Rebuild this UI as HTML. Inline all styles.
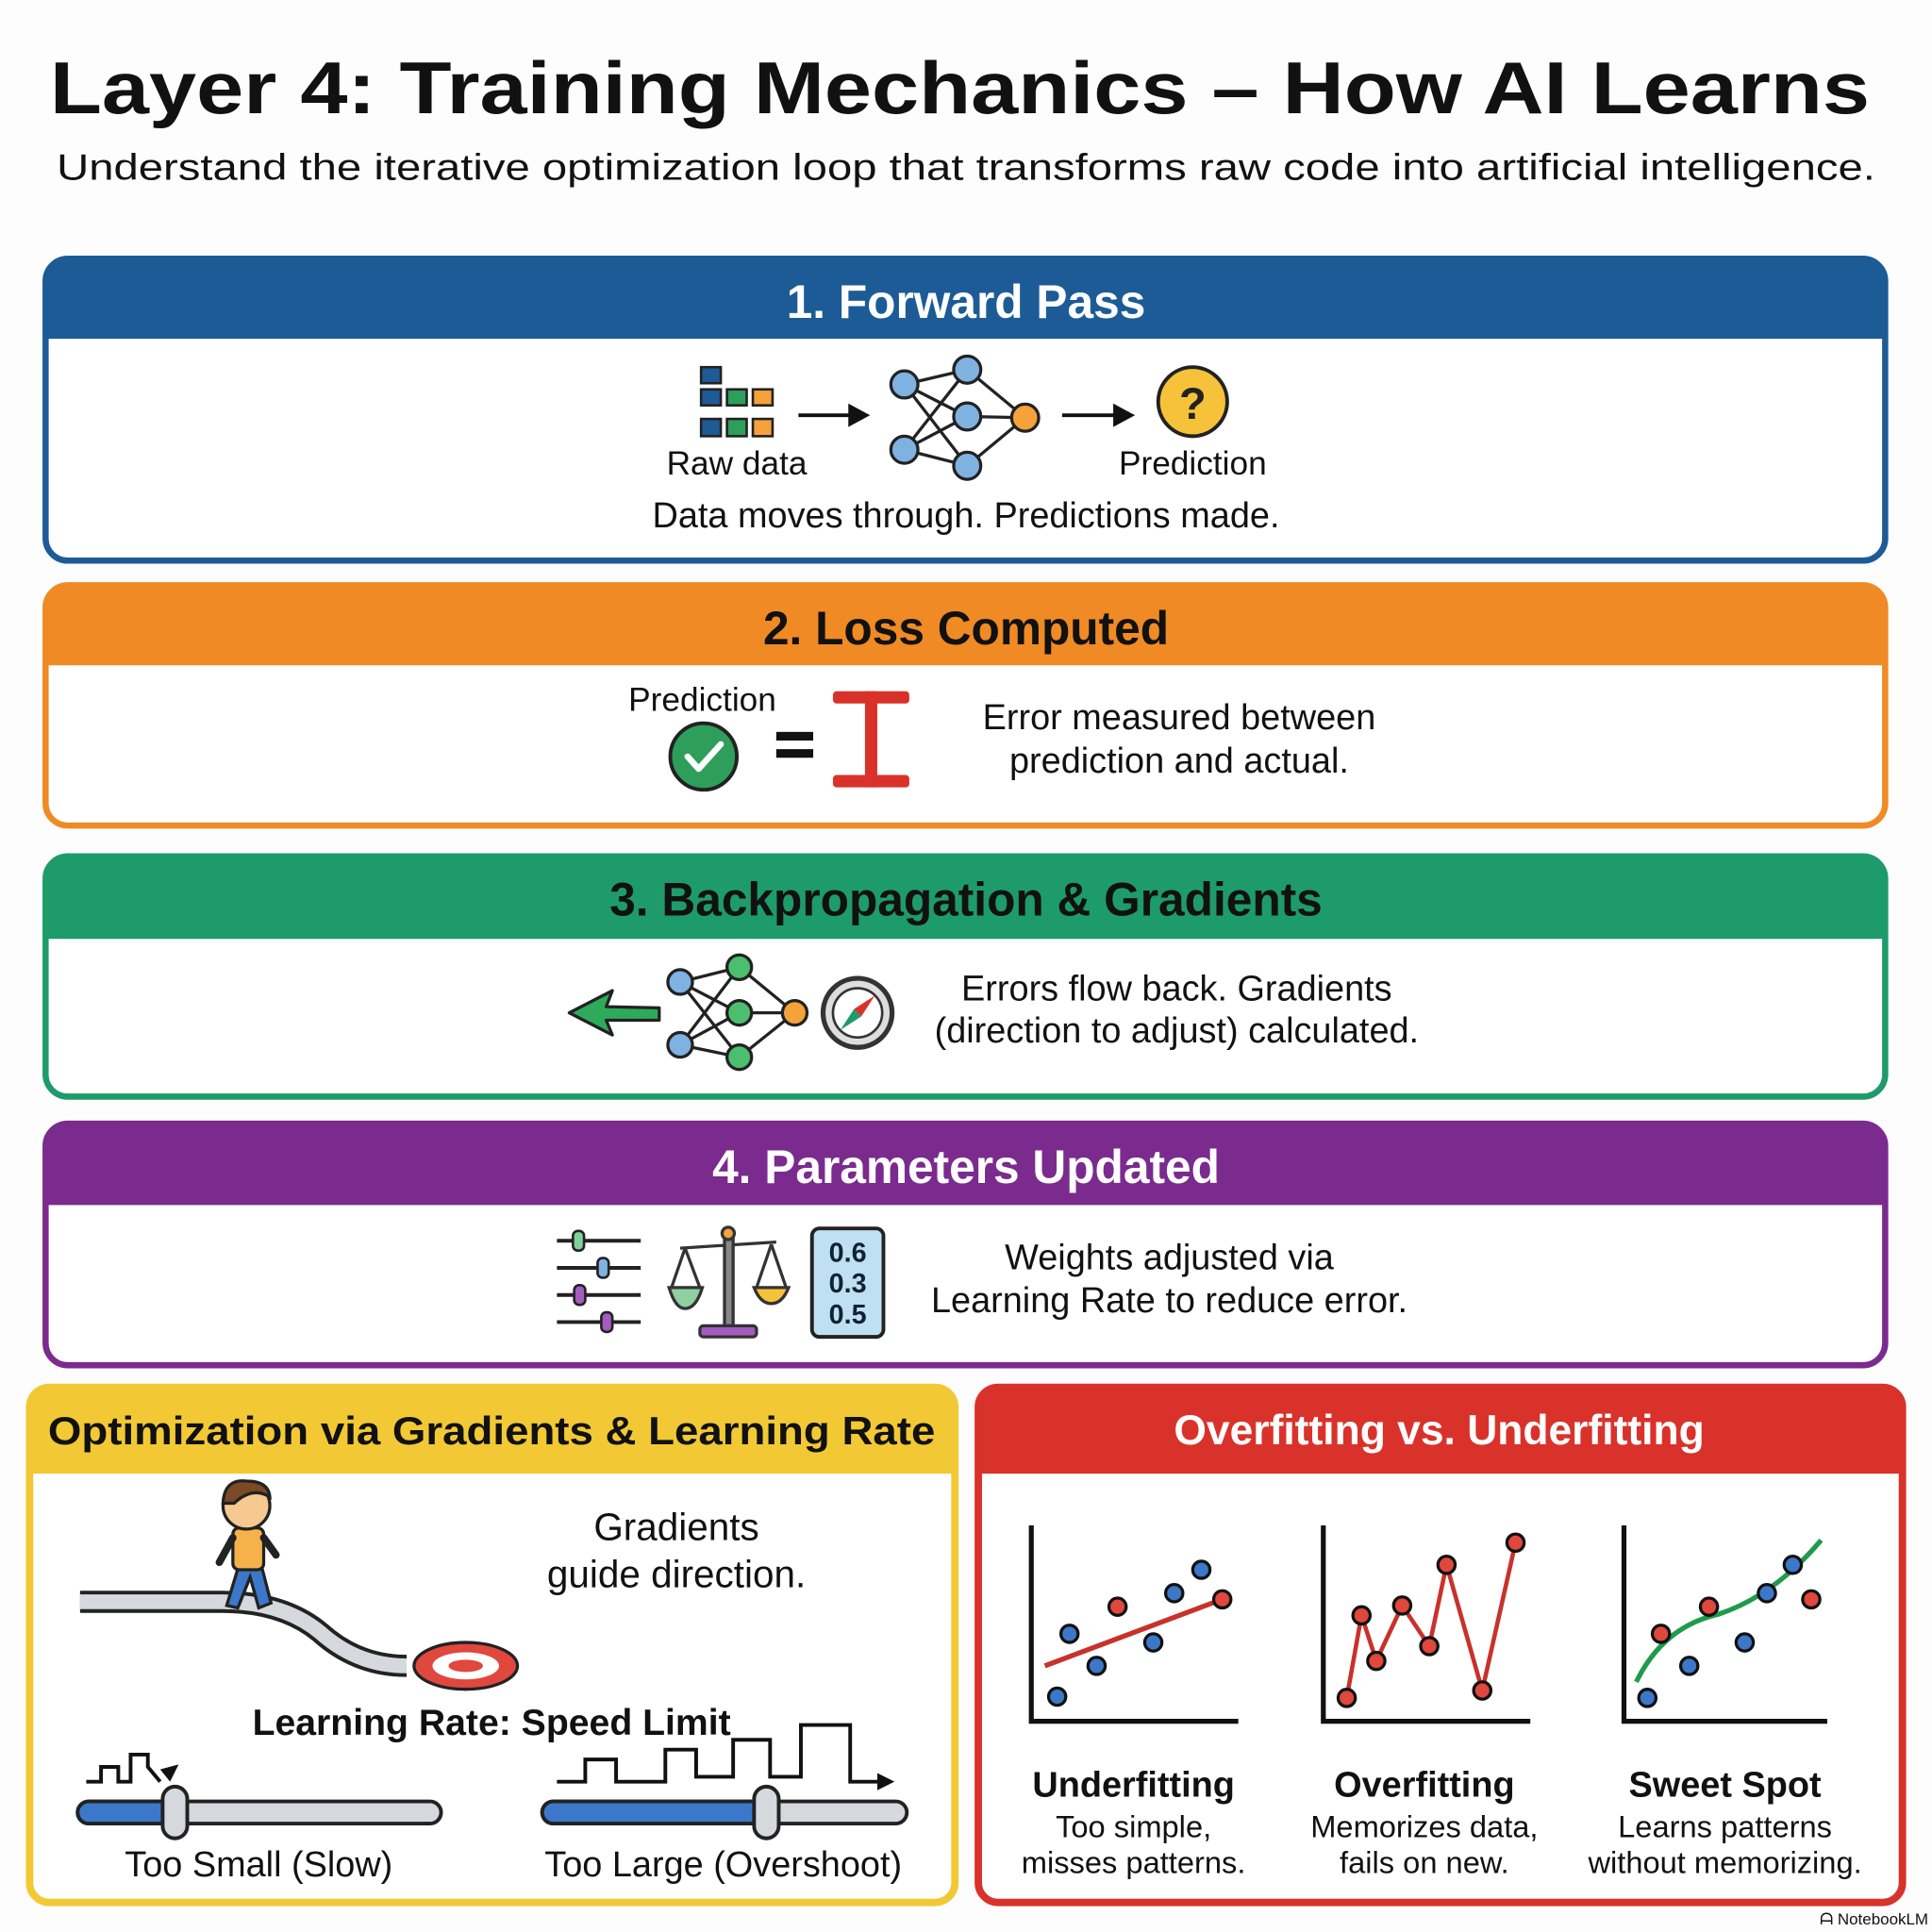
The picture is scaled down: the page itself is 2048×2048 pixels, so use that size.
<!DOCTYPE html>
<html><head><meta charset="utf-8"><style>
html,body{margin:0;padding:0;background:#fdfdfd;}
svg{display:block;}
text{font-family:"Liberation Sans",sans-serif;}
</style></head><body>
<svg width="2048" height="2048" viewBox="0 0 1568 1568" xmlns="http://www.w3.org/2000/svg">
<rect width="1568" height="1568" fill="#fdfdfd"/>
<text x="779" y="92" font-size="60" font-weight="bold" text-anchor="middle" textLength="1477" lengthAdjust="spacingAndGlyphs" fill="#111">Layer 4: Training Mechanics – How AI Learns</text>
<text x="784" y="146" font-size="30" text-anchor="middle" textLength="1476" lengthAdjust="spacingAndGlyphs" fill="#111">Understand the iterative optimization loop that transforms raw code into artificial intelligence.</text>

<!-- Box 1 -->
<rect x="37" y="210" width="1493" height="245" rx="18" fill="#fff" stroke="#1d5b97" stroke-width="5"/>
<path d="M37 275 V228 Q37 210 55 210 H1512 Q1530 210 1530 228 V275 Z" fill="#1d5b97"/>
<text x="784" y="258" font-size="38" font-weight="bold" text-anchor="middle" fill="#fff">1. Forward Pass</text>
<g stroke="#222" stroke-width="2">
<rect x="569" y="298" width="16" height="13" fill="#1d5b97"/>
<rect x="569" y="316" width="16" height="13" fill="#1d5b97"/><rect x="590" y="316" width="16" height="13" fill="#2e9e5b"/><rect x="611" y="316" width="16" height="13" fill="#f5a23a"/>
<rect x="569" y="340" width="16" height="14" fill="#1d5b97"/><rect x="590" y="340" width="16" height="14" fill="#2e9e5b"/><rect x="611" y="340" width="16" height="14" fill="#f5a23a"/>
</g>
<g stroke="#111" stroke-width="3" fill="#111">
<line x1="648" y1="337" x2="695" y2="337"/><path d="M703 337 L690 330 L690 344Z"/>
<line x1="862" y1="337" x2="910" y2="337"/><path d="M918 337 L905 330 L905 344Z"/>
</g>
<g stroke="#222" stroke-width="2.5">
<line x1="734" y1="312" x2="785" y2="300"/><line x1="734" y1="312" x2="785" y2="338"/><line x1="734" y1="312" x2="785" y2="378"/>
<line x1="734" y1="365" x2="785" y2="300"/><line x1="734" y1="365" x2="785" y2="338"/><line x1="734" y1="365" x2="785" y2="378"/>
<line x1="785" y1="300" x2="832" y2="339"/><line x1="785" y1="338" x2="832" y2="339"/><line x1="785" y1="378" x2="832" y2="339"/>
<circle cx="734" cy="312" r="11" fill="#7fb2e0"/><circle cx="734" cy="365" r="11" fill="#7fb2e0"/>
<circle cx="785" cy="300" r="11" fill="#7fb2e0"/><circle cx="785" cy="338" r="11" fill="#7fb2e0"/><circle cx="785" cy="378" r="11" fill="#7fb2e0"/>
<circle cx="832" cy="339" r="11" fill="#f5a23a"/>
</g>
<circle cx="968" cy="326" r="28" fill="#f5c23a" stroke="#222" stroke-width="3"/>
<text x="968" y="340" font-size="36" font-weight="bold" text-anchor="middle" fill="#222">?</text>
<text x="598" y="385" font-size="27" text-anchor="middle" fill="#111">Raw data</text>
<text x="968" y="385" font-size="27" text-anchor="middle" fill="#111">Prediction</text>
<text x="784" y="428" font-size="29" text-anchor="middle" fill="#111">Data moves through. Predictions made.</text>

<!-- Box 2 -->
<rect x="37" y="475" width="1493" height="195" rx="18" fill="#fff" stroke="#f08a24" stroke-width="5"/>
<path d="M37 540 V493 Q37 475 55 475 H1512 Q1530 475 1530 493 V540 Z" fill="#f08a24"/>
<text x="784" y="523" font-size="38" font-weight="bold" text-anchor="middle" fill="#111">2. Loss Computed</text>
<text x="570" y="577" font-size="27" text-anchor="middle" fill="#111">Prediction</text>
<circle cx="571" cy="614" r="27" fill="#2e9e5b" stroke="#222" stroke-width="3"/>
<path d="M558 614 L567 624 L585 604" fill="none" stroke="#fff" stroke-width="5" stroke-linecap="round" stroke-linejoin="round"/>
<rect x="630" y="594" width="30" height="7" fill="#111"/><rect x="630" y="608" width="30" height="7" fill="#111"/>
<g fill="#d9322b"><rect x="676" y="561" width="62" height="10" rx="3"/><rect x="702" y="561" width="10" height="78"/><rect x="676" y="629" width="62" height="10" rx="3"/></g>
<text x="957" y="592" font-size="29" text-anchor="middle" fill="#111">Error measured between</text>
<text x="957" y="627" font-size="29" text-anchor="middle" fill="#111">prediction and actual.</text>

<!-- Box 3 -->
<rect x="37" y="695" width="1493" height="195" rx="18" fill="#fff" stroke="#1e9b6b" stroke-width="5"/>
<path d="M37 762 V713 Q37 695 55 695 H1512 Q1530 695 1530 713 V762 Z" fill="#1e9b6b"/>
<text x="784" y="743" font-size="38" font-weight="bold" text-anchor="middle" fill="#111">3. Backpropagation &amp; Gradients</text>
<path d="M462 822 L497 804 L492 817 L535 818 L535 828 L492 828 L497 840 Z" fill="#2eab5a" stroke="#222" stroke-width="2.5" stroke-linejoin="round"/>
<g stroke="#222" stroke-width="2.5">
<line x1="552" y1="797" x2="600" y2="785"/><line x1="552" y1="797" x2="600" y2="822"/><line x1="552" y1="797" x2="600" y2="858"/>
<line x1="552" y1="848" x2="600" y2="785"/><line x1="552" y1="848" x2="600" y2="822"/><line x1="552" y1="848" x2="600" y2="858"/>
<line x1="600" y1="785" x2="645" y2="822"/><line x1="600" y1="822" x2="645" y2="822"/><line x1="600" y1="858" x2="645" y2="822"/>
<circle cx="552" cy="797" r="10" fill="#7fb2e0"/><circle cx="552" cy="848" r="10" fill="#7fb2e0"/>
<circle cx="600" cy="785" r="10" fill="#4cbf6e"/><circle cx="600" cy="822" r="10" fill="#4cbf6e"/><circle cx="600" cy="858" r="10" fill="#4cbf6e"/>
<circle cx="645" cy="822" r="10" fill="#f5a23a"/>
</g>
<circle cx="696" cy="822" r="28" fill="#ddd" stroke="#333" stroke-width="4"/>
<circle cx="696" cy="822" r="20" fill="#fff" stroke="#333" stroke-width="2"/>
<path d="M710 808 L699 825 L693 819 Z" fill="#d9322b"/><path d="M682 836 L693 819 L699 825 Z" fill="#1e9b6b"/>
<text x="955" y="812" font-size="29" text-anchor="middle" fill="#111">Errors flow back. Gradients</text>
<text x="955" y="846" font-size="29" text-anchor="middle" fill="#111">(direction to adjust) calculated.</text>

<!-- Box 4 -->
<rect x="37" y="912" width="1493" height="196" rx="18" fill="#fff" stroke="#7b2a8e" stroke-width="5"/>
<path d="M37 978 V930 Q37 912 55 912 H1512 Q1530 912 1530 930 V978 Z" fill="#7b2a8e"/>
<text x="784" y="960" font-size="38" font-weight="bold" text-anchor="middle" fill="#fff">4. Parameters Updated</text>
<g stroke="#222" stroke-width="3">
<line x1="452" y1="1007" x2="520" y2="1007"/><line x1="452" y1="1029" x2="520" y2="1029"/><line x1="452" y1="1051" x2="520" y2="1051"/><line x1="452" y1="1073" x2="520" y2="1073"/>
<rect x="465" y="999" width="9" height="16" rx="4" fill="#7fd09a" stroke-width="2"/>
<rect x="485" y="1021" width="9" height="16" rx="4" fill="#7fb2e0" stroke-width="2"/>
<rect x="466" y="1043" width="9" height="16" rx="4" fill="#a45cc0" stroke-width="2"/>
<rect x="488" y="1065" width="9" height="16" rx="4" fill="#a45cc0" stroke-width="2"/>
</g>
<g stroke="#333" stroke-width="2.5">
<line x1="552" y1="1013" x2="630" y2="1008"/>
<rect x="588" y="1003" width="7" height="73" fill="#888"/>
<circle cx="591" cy="1001" r="5" fill="#f5a23a"/>
<line x1="556" y1="1013" x2="545" y2="1045"/><line x1="556" y1="1013" x2="568" y2="1045"/>
<line x1="626" y1="1010" x2="614" y2="1045"/><line x1="626" y1="1010" x2="638" y2="1045"/>
<path d="M543 1045 H570 Q565 1062 556 1062 Q548 1062 543 1045Z" fill="#8fd0a0"/>
<path d="M612 1045 H640 Q635 1058 626 1058 Q617 1058 612 1045Z" fill="#f5c23a"/>
<rect x="568" y="1076" width="46" height="9" rx="3" fill="#a45cc0"/>
</g>
<rect x="659" y="997" width="58" height="88" rx="6" fill="#bfe0f2" stroke="#222" stroke-width="3"/>
<text x="688" y="1024" font-size="22" font-weight="bold" text-anchor="middle" fill="#123">0.6</text>
<text x="688" y="1049" font-size="22" font-weight="bold" text-anchor="middle" fill="#123">0.3</text>
<text x="688" y="1074" font-size="22" font-weight="bold" text-anchor="middle" fill="#123">0.5</text>
<text x="949" y="1030" font-size="29" text-anchor="middle" fill="#111">Weights adjusted via</text>
<text x="949" y="1065" font-size="29" text-anchor="middle" fill="#111">Learning Rate to reduce error.</text>

<!-- Bottom left -->
<rect x="24" y="1126" width="751" height="418" rx="16" fill="#fff" stroke="#f2c935" stroke-width="6"/>
<path d="M24 1196 V1142 Q24 1126 40 1126 H759 Q775 1126 775 1142 V1196 Z" fill="#f2c935"/>
<text x="399" y="1172" font-size="32" font-weight="bold" text-anchor="middle" textLength="720" lengthAdjust="spacingAndGlyphs" fill="#111">Optimization via Gradients &amp; Learning Rate</text>
<path d="M65 1300 H180 Q230 1300 260 1325 Q290 1352 330 1352" fill="none" stroke="#222" stroke-width="18" stroke-linecap="butt"/>
<path d="M65 1300 H180 Q230 1300 260 1325 Q290 1352 330 1352" fill="none" stroke="#d5d8dc" stroke-width="12"/>
<ellipse cx="378" cy="1352" rx="42" ry="19" fill="#e0473d" stroke="#222" stroke-width="2.5"/>
<ellipse cx="378" cy="1352" rx="27" ry="11" fill="#fff"/>
<ellipse cx="378" cy="1352" rx="14" ry="5" fill="#e0473d"/>
<!-- person -->
<g stroke="#222" stroke-width="2.5">
<path d="M194 1270 L184 1303 L193 1305 L203 1280 L210 1305 L220 1301 L212 1270Z" fill="#3b78c9"/>
<rect x="189" y="1240" width="25" height="34" rx="5" fill="#f5b24a"/>
<path d="M189 1248 L178 1268" stroke-width="6" stroke-linecap="round"/>
<path d="M214 1248 L224 1262" stroke-width="6" stroke-linecap="round"/>
<circle cx="200" cy="1222" r="19" fill="#f5c98f"/>
<path d="M181 1220 Q182 1200 200 1202 Q218 1202 219 1215 Q205 1206 190 1220Z" fill="#7a4a26"/>
</g>
<text x="549" y="1250" font-size="31" text-anchor="middle" fill="#111">Gradients</text>
<text x="549" y="1288" font-size="31" text-anchor="middle" fill="#111">guide direction.</text>
<text x="399" y="1408" font-size="30" font-weight="bold" text-anchor="middle" fill="#111">Learning Rate: Speed Limit</text>
<path d="M70 1446 H82 V1434 H96 V1446 H106 V1424 H120 V1434 L130 1446" fill="none" stroke="#111" stroke-width="3"/>
<path d="M130 1436 L145 1432 L138 1446Z" fill="#111"/>
<path d="M452 1446 H475 V1428 H500 V1446 H540 V1420 H565 V1442 H595 V1412 H625 V1442 H650 V1400 H690 V1446 H715" fill="none" stroke="#111" stroke-width="3"/>
<path d="M726 1446 L712 1439 L712 1453Z" fill="#111"/>
<rect x="63" y="1462" width="295" height="18" rx="9" fill="#d5d8dc" stroke="#222" stroke-width="3"/>
<rect x="63" y="1462" width="80" height="18" rx="9" fill="#3b78c9" stroke="#222" stroke-width="3"/>
<rect x="132" y="1450" width="20" height="42" rx="10" fill="#d5d8dc" stroke="#222" stroke-width="3"/>
<rect x="440" y="1462" width="296" height="18" rx="9" fill="#d5d8dc" stroke="#222" stroke-width="3"/>
<rect x="440" y="1462" width="180" height="18" rx="9" fill="#3b78c9" stroke="#222" stroke-width="3"/>
<rect x="612" y="1450" width="20" height="42" rx="10" fill="#d5d8dc" stroke="#222" stroke-width="3"/>
<text x="210" y="1523" font-size="29" text-anchor="middle" fill="#111">Too Small (Slow)</text>
<text x="587" y="1523" font-size="29" text-anchor="middle" fill="#111">Too Large (Overshoot)</text>

<!-- Bottom right -->
<rect x="794" y="1126" width="750" height="418" rx="16" fill="#fff" stroke="#d9322b" stroke-width="6"/>
<path d="M794 1196 V1142 Q794 1126 810 1126 H1528 Q1544 1126 1544 1142 V1196 Z" fill="#d9322b"/>
<text x="1168" y="1172" font-size="34" font-weight="bold" text-anchor="middle" fill="#fff">Overfitting vs. Underfitting</text>
<g fill="none" stroke="#111" stroke-width="4">
<path d="M837 1238 V1397 H1005"/><path d="M1074 1238 V1397 H1242"/><path d="M1318 1238 V1397 H1483"/>
</g>
<line x1="848" y1="1352" x2="992" y2="1298" stroke="#c8322b" stroke-width="4"/>
<g stroke="#111" stroke-width="2.5">
<circle cx="858" cy="1377" r="7" fill="#3b78c9"/><circle cx="868" cy="1326" r="7" fill="#3b78c9"/><circle cx="890" cy="1352" r="7" fill="#3b78c9"/>
<circle cx="907" cy="1304" r="7" fill="#e0473d"/><circle cx="936" cy="1333" r="7" fill="#3b78c9"/><circle cx="953" cy="1293" r="7" fill="#3b78c9"/>
<circle cx="975" cy="1274" r="7" fill="#3b78c9"/><circle cx="992" cy="1298" r="7" fill="#e0473d"/>
</g>
<polyline points="1093,1378 1105,1311 1117,1348 1138,1303 1160,1336 1174,1270 1203,1372 1230,1252" fill="none" stroke="#c8322b" stroke-width="3.5"/>
<g stroke="#111" stroke-width="2.5" fill="#e0473d">
<circle cx="1093" cy="1378" r="7"/><circle cx="1105" cy="1311" r="7"/><circle cx="1117" cy="1348" r="7"/><circle cx="1138" cy="1303" r="7"/>
<circle cx="1160" cy="1336" r="7"/><circle cx="1174" cy="1270" r="7"/><circle cx="1203" cy="1372" r="7"/><circle cx="1230" cy="1252" r="7"/>
</g>
<path d="M1328 1365 Q1350 1320 1395 1310 Q1440 1295 1478 1250" fill="none" stroke="#1e9b4b" stroke-width="4"/>
<g stroke="#111" stroke-width="2.5">
<circle cx="1337" cy="1378" r="7" fill="#3b78c9"/><circle cx="1348" cy="1326" r="7" fill="#e0473d"/><circle cx="1371" cy="1352" r="7" fill="#3b78c9"/>
<circle cx="1387" cy="1304" r="7" fill="#e0473d"/><circle cx="1416" cy="1333" r="7" fill="#3b78c9"/><circle cx="1434" cy="1293" r="7" fill="#3b78c9"/>
<circle cx="1455" cy="1270" r="7" fill="#3b78c9"/><circle cx="1470" cy="1298" r="7" fill="#e0473d"/>
</g>
<text x="920" y="1458" font-size="29" font-weight="bold" text-anchor="middle" fill="#111">Underfitting</text>
<text x="920" y="1491" font-size="25" text-anchor="middle" fill="#111">Too simple,</text>
<text x="920" y="1520" font-size="25" text-anchor="middle" fill="#111">misses patterns.</text>
<text x="1156" y="1458" font-size="29" font-weight="bold" text-anchor="middle" fill="#111">Overfitting</text>
<text x="1156" y="1491" font-size="25" text-anchor="middle" fill="#111">Memorizes data,</text>
<text x="1156" y="1520" font-size="25" text-anchor="middle" fill="#111">fails on new.</text>
<text x="1400" y="1458" font-size="29" font-weight="bold" text-anchor="middle" fill="#111">Sweet Spot</text>
<text x="1400" y="1491" font-size="25" text-anchor="middle" fill="#111">Learns patterns</text>
<text x="1400" y="1520" font-size="25" text-anchor="middle" fill="#111">without memorizing.</text>
<text x="1565" y="1562" font-size="13" text-anchor="end" fill="#111">ᗩ NotebookLM</text>
</svg>
</body></html>
